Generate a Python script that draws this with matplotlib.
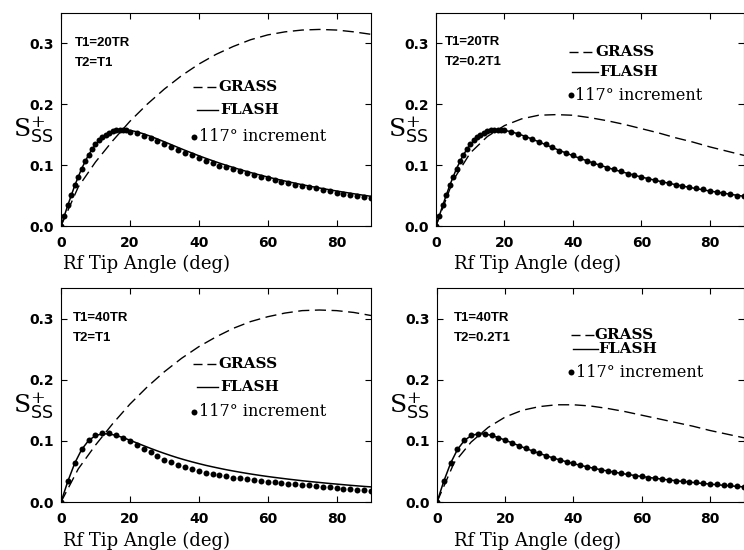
import numpy as np
import matplotlib
matplotlib.use("Agg")
import matplotlib.pyplot as plt

plt.rcParams['font.family'] = ['DejaVu Serif']
plt.rcParams['mathtext.fontset'] = 'dejavuserif'

# 横轴: Rf tip angle (deg)
flash_deg = np.arange(0, 91, 2)
grass_deg = np.arange(0, 91, 5)
dot_deg_top = np.r_[np.arange(0, 21, 1), np.arange(22, 91, 2)]
dot_deg_bottom = np.arange(0, 91, 2)

x_ticks = [0, 20, 40, 60, 80]
y_ticks = [0.0, 0.1, 0.2, 0.3]

# FLASH (实线)
flash_20tr = [0, .0345, .0666, .0944, .1170, .1340, .1458, .1532, .1570, .1581,
              .1572, .1548, .1514, .1474, .1430, .1384, .1337, .1290, .1244, .1199,
              .1155, .1113, .1073, .1034, .0997, .0962, .0927, .0895, .0864, .0834,
              .0805, .0778, .0752, .0727, .0703, .0679, .0657, .0635, .0615, .0595,
              .0575, .0557, .0539, .0521, .0504, .0488]
flash_40tr = [0, .0341, .0636, .0859, .1005, .1085, .1116, .1113, .1089, .1053,
              .1011, .0966, .0921, .0877, .0835, .0795, .0757, .0721, .0688, .0657,
              .0628, .0600, .0575, .0551, .0528, .0507, .0487, .0468, .0450, .0433,
              .0417, .0402, .0388, .0374, .0361, .0348, .0336, .0325, .0314, .0303,
              .0293, .0283, .0273, .0264, .0255, .0247]

# GRASS (虚线)
grass_20tr_t1 = [0, .064, .105, .140, .172, .200, .225, .247, .266, .282,
                 .295, .306, .314, .319, .322, .323, .322, .319, .315]
grass_20tr_02 = [0, .075, .120, .147, .165, .176, .182, .183, .182, .178,
                 .173, .167, .160, .153, .145, .138, .130, .123, .116]
grass_40tr_t1 = [0, .054, .093, .128, .160, .188, .213, .235, .254, .270,
                 .284, .295, .303, .309, .313, .314, .313, .310, .305]
grass_40tr_02 = [0, .064, .098, .122, .139, .150, .156, .159, .159, .157,
                 .153, .148, .142, .136, .130, .124, .117, .111, .105]

# 117° increment (点)
inc_20tr_t1 = [0, .017, .035, .051, .067, .081, .094, .106, .117, .126, .134,
               .141, .146, .150, .153, .156, .157, .158, .158, .158, .155,
               .153, .148, .144, .140, .135, .130, .125, .120, .116, .112,
               .107, .103, .099, .097, .093, .090, .087, .084, .081, .079,
               .076, .073, .071, .068, .066, .064, .062, .059, .057, .055,
               .053, .051, .049, .047, .046]
inc_20tr_02 = [0, .017, .035, .051, .067, .081, .094, .106, .117, .126, .134,
               .141, .146, .150, .153, .156, .157, .158, .158, .158, .157,
               .155, .151, .147, .143, .138, .134, .129, .124, .120, .116,
               .111, .107, .103, .100, .096, .093, .090, .086, .083, .081,
               .078, .075, .073, .070, .068, .066, .064, .062, .060, .058,
               .056, .054, .052, .050, .049]
inc_40tr_t1 = [0, .034, .063, .086, .101, .109, .113, .113, .110, .105,
               .099, .093, .087, .081, .075, .069, .065, .061, .057, .054,
               .051, .048, .046, .044, .042, .040, .039, .037, .036, .034,
               .033, .032, .031, .030, .029, .028, .027, .026, .025, .024,
               .023, .022, .021, .020, .019, .018]
inc_40tr_02 = [0, .034, .064, .086, .101, .109, .112, .111, .109, .105,
               .101, .097, .092, .088, .084, .080, .076, .072, .069, .066,
               .063, .060, .058, .055, .053, .051, .049, .047, .045, .043,
               .042, .040, .039, .037, .036, .035, .034, .033, .032, .031,
               .030, .029, .028, .027, .026, .025]

panels = [
    dict(rect=[61 / 744, 1 - 226 / 550, 310 / 744, 213 / 550],
         grass=grass_20tr_t1, flash=flash_20tr, dots=inc_20tr_t1, dot_deg=dot_deg_top,
         t1="T1=20TR", t2="T2=T1", tpos=(0.045, 0.859, 0.765),
         leg=dict(g=(0.426, 0.503, 0.653, 0.508), f=(0.439, 0.506, 0.545, 0.513),
                  d=(0.429, 0.418, 0.445))),
    dict(rect=[436 / 744, 1 - 226 / 550, 308 / 744, 213 / 550],
         grass=grass_20tr_02, flash=flash_20tr, dots=inc_20tr_02, dot_deg=dot_deg_top,
         t1="T1=20TR", t2="T2=0.2T1", tpos=(0.029, 0.864, 0.770),
         leg=dict(g=(0.432, 0.513, 0.817, 0.519), f=(0.442, 0.526, 0.723, 0.529),
                  d=(0.438, 0.615, 0.452))),
    dict(rect=[61 / 744, 1 - 502 / 550, 310 / 744, 214 / 550],
         grass=grass_40tr_t1, flash=flash_40tr, dots=inc_40tr_t1, dot_deg=dot_deg_bottom,
         t1="T1=40TR", t2="T2=T1", tpos=(0.039, 0.860, 0.766),
         leg=dict(g=(0.426, 0.503, 0.645, 0.508), f=(0.439, 0.506, 0.537, 0.513),
                  d=(0.429, 0.421, 0.445))),
    dict(rect=[437 / 744, 1 - 502 / 550, 307 / 744, 214 / 550],
         grass=grass_40tr_02, flash=flash_40tr, dots=inc_40tr_02, dot_deg=dot_deg_bottom,
         t1="T1=40TR", t2="T2=0.2T1", tpos=(0.055, 0.860, 0.766),
         leg=dict(g=(0.436, 0.511, 0.780, 0.512), f=(0.443, 0.523, 0.715, 0.526),
                  d=(0.437, 0.607, 0.453))),
]

fig = plt.figure(figsize=(7.44, 5.5), dpi=100)

for p in panels:
    ax = fig.add_axes(p['rect'])
    ax.plot(grass_deg, p['grass'], color='black', lw=1.0, dashes=(8, 4))
    ax.plot(flash_deg, p['flash'], color='black', lw=1.1)
    ax.plot(p['dot_deg'], p['dots'], 'o', color='black', ms=4.3, mew=0)

    ax.set_xlim(0, 90)
    ax.set_ylim(0, 0.35)
    ax.set_xticks(x_ticks)
    ax.set_yticks(y_ticks)
    ax.set_yticklabels([f"{v:.1f}" for v in y_ticks])
    ax.tick_params(direction='in', top=True, right=True, length=4, width=0.8)
    ax.tick_params(axis='x', pad=7)
    ax.tick_params(axis='y', pad=5)
    for lab in ax.get_xticklabels() + ax.get_yticklabels():
        lab.set_family('DejaVu Sans')
        lab.set_weight('bold')
        lab.set_size(10)
    for s in ax.spines.values():
        s.set_linewidth(0.8)

    # 参数说明
    tx, ty1, ty2 = p['tpos']
    ax.text(tx, ty1, p['t1'], transform=ax.transAxes, family='Liberation Sans',
            weight='bold', size=9.5, va='center')
    ax.text(tx, ty2, p['t2'], transform=ax.transAxes, family='Liberation Sans',
            weight='bold', size=9.5, va='center')

    # 图例 (手工绘制)
    g, f, d = p['leg']['g'], p['leg']['f'], p['leg']['d']
    ax.plot([g[0], g[1]], [g[2], g[2]], color='black', lw=1.0, dashes=(6.5, 3.5),
            transform=ax.transAxes)
    ax.text(g[3], g[2], "GRASS", transform=ax.transAxes, weight='bold', size=11,
            va='center')
    ax.plot([f[0], f[1]], [f[2], f[2]], color='black', lw=1.0, transform=ax.transAxes)
    ax.text(f[3], f[2], "FLASH", transform=ax.transAxes, weight='bold', size=11,
            va='center')
    ax.plot([d[0]], [d[1]], 'o', color='black', ms=4.3, mew=0, transform=ax.transAxes)
    ax.text(d[2], d[1], "117° increment", transform=ax.transAxes, size=11.5,
            va='center')

    # 坐标轴标签
    ax.text(-0.155, 0.451, r"S$^{+}_{\mathsf{SS}}$", transform=ax.transAxes,
            size=18, ha='left', va='center')
    ax.text(0.277 if p['rect'][0] < 0.5 else 0.328, -0.18, "Rf Tip Angle (deg)",
            transform=ax.transAxes, size=13, ha='center', va='center')

fig.savefig("out.png", dpi=100)
